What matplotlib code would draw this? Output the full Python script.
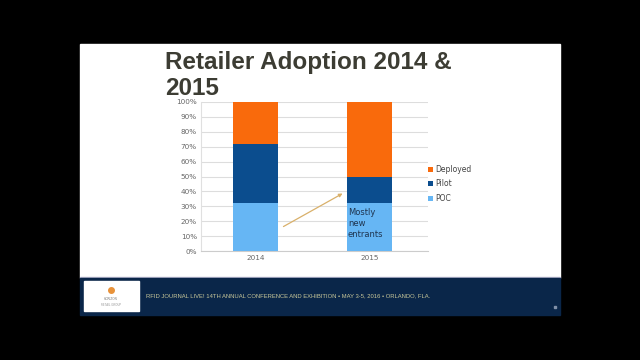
import matplotlib.pyplot as plt
import numpy as np
from matplotlib.patches import Rectangle

years = ['2014', '2015']
poc = [32, 32]
pilot = [40, 18]
deployed = [28, 50]
yticks = list(range(0, 101, 10))
ytick_labels = ['%d%%' % v for v in yticks]

c_deployed = '#F96A0C'
c_pilot = '#0B4D8E'
c_poc = '#66B6F4'
navy = '#0A2649'

W, H = 640, 360
fig = plt.figure(figsize=(6.4, 3.6), dpi=100, facecolor='black')

def px(x0, y0, x1, y1):
    # pixel box (top-left origin) -> figure rect
    return [x0 / W, 1 - y1 / H, (x1 - x0) / W, (y1 - y0) / H]

# slide background
bg = fig.add_axes([0, 0, 1, 1])
bg.set_xlim(0, W)
bg.set_ylim(H, 0)
bg.axis('off')
bg.add_patch(Rectangle((80, 44), 480, 233, color='white'))
bg.add_patch(Rectangle((80, 276.5), 480, 1.5, color='#B8B8D0'))
bg.add_patch(Rectangle((80, 278), 480, 37, color=navy))
bg.add_patch(Rectangle((84, 281), 55, 30, color='white'))
bg.plot([111], [290], 'o', color='#E8923A', ms=4)
bg.text(111, 299, 'HORIZON', fontsize=2.2, color='#777777', ha='center', va='center')
bg.text(111, 305, 'RETAIL GROUP', fontsize=2, color='#999999', ha='center', va='center')
bg.text(146, 296, 'RFID JOURNAL LIVE! 14TH ANNUAL CONFERENCE AND EXHIBITION \u2022 MAY 3-5, 2016 \u2022 ORLANDO, FLA.',
        fontsize=4.2, color='#C9C89A', ha='left', va='center', family='Liberation Sans')
bg.plot([555], [307], 's', color='#8090A8', ms=1.5)

bg.text(165, 51, 'Retailer Adoption 2014 &\n2015', fontsize=17.5, fontweight='bold', color='#3C3C33',
        ha='left', va='top', family='Liberation Sans', linespacing=1.15)

# chart
ax = fig.add_axes(px(201, 102, 428, 251))
x = np.arange(len(years))
w = 0.395
ax.bar(x, poc, w, color=c_poc, label='POC', zorder=3)
ax.bar(x, pilot, w, bottom=poc, color=c_pilot, label='Pilot', zorder=3)
ax.bar(x, deployed, w, bottom=np.add(poc, pilot), color=c_deployed, label='Deployed', zorder=3)
ax.set_xlim(-0.478, 1.513)
ax.set_ylim(0, 100)
ax.set_yticks(yticks)
ax.set_yticklabels(ytick_labels)
ax.set_xticks(x)
ax.set_xticklabels(years)
ax.tick_params(axis='both', length=0, labelsize=5.2, colors='#666666', pad=3)
ax.grid(axis='y', color='#DDDDDD', lw=0.8, zorder=0)
for s in ['top', 'right']:
    ax.spines[s].set_visible(False)
ax.spines['left'].set_color('#E0E0E0')
ax.spines['bottom'].set_color('#CCCCCC')

ax.annotate('', xy=(0.785, 39.5), xytext=(0.224, 15.5),
            arrowprops=dict(arrowstyle='-|>', color='#D9B06A', lw=0.9, mutation_scale=5), zorder=4)
ax.text(0.81, 18.5, 'Mostly\nnew\nentrants', fontsize=6, color='#1F3550', ha='left', va='center',
        linespacing=1.3, zorder=5)

handles, labels = ax.get_legend_handles_labels()
leg = ax.legend(handles[::-1], labels[::-1], loc='center left', bbox_to_anchor=(0.97, 0.45),
                frameon=False, fontsize=5.5, handlelength=0.6, handleheight=0.6,
                handletextpad=0.3, labelspacing=0.7)
for t in leg.get_texts():
    t.set_color('#444444')

fig.savefig('out.png', dpi=100, facecolor='black')
